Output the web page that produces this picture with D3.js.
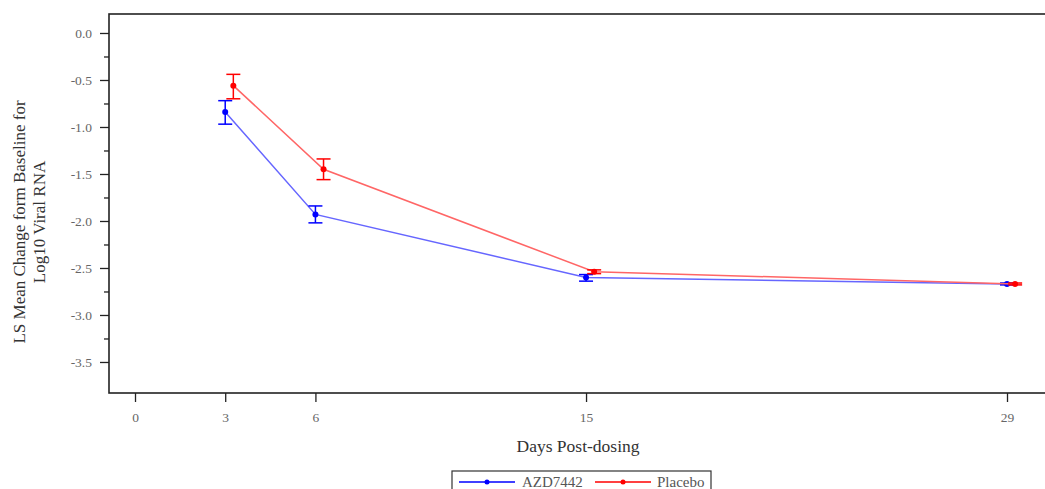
<!DOCTYPE html>
<html><head><meta charset="utf-8">
<script src="https://cdn.jsdelivr.net/npm/d3@7"></script>
<style>body{margin:0;background:#fff;}svg{display:block;}</style>
</head><body>
<svg id="c" width="1045" height="489"></svg>
<script>
const days = [3, 6, 15, 29];
const seriesNames = ["AZD7442", "Placebo"];
const seriesColors = ["#0000ff", "#ff0000"];
const lineColors = ["#6666ff", "#ff6666"];
const azdMean = [-0.84, -1.93, -2.60, -2.67];
const azdLow  = [-0.97, -2.02, -2.64, -2.68];
const azdHigh = [-0.72, -1.84, -2.57, -2.66];
const pboMean = [-0.56, -1.45, -2.54, -2.67];
const pboLow  = [-0.70, -1.56, -2.56, -2.68];
const pboHigh = [-0.44, -1.34, -2.52, -2.66];
const xTicks = [0, 3, 6, 15, 29];
const yTicks = [0, -0.5, -1, -1.5, -2, -2.5, -3, -3.5];
const offsets = [0, 0.27];

const svg = d3.select("#c");
const L = 109, T = 14, R = 1047, B = 393;
const x = d3.scaleLinear().domain([-0.865, 30.33]).range([L, R]);
const y = d3.scaleLinear().domain([-3.83, 0.202]).range([B, T]);
const font = "'Liberation Serif', 'Times New Roman', serif";

// frame
svg.append("rect").attr("x", L).attr("y", T).attr("width", R - L).attr("height", B - T)
  .attr("fill", "none").attr("stroke", "#222").attr("stroke-width", 1.6);

// y axis
const yAx = svg.append("g").attr("transform", `translate(${L},0)`)
  .call(d3.axisLeft(y).tickValues(yTicks).tickFormat(d3.format(".1f")).tickSize(9).tickPadding(8));
yAx.select(".domain").remove();
yAx.selectAll("line").attr("stroke", "#222").attr("stroke-width", 1.3);
yAx.selectAll("text").attr("font-family", font).attr("font-size", 13.5).attr("fill", "#666")
  .text(d => d === 0 ? "0.0" : d3.format(".1f")(d).replace("−", "-"));
const yMinor = svg.append("g").attr("transform", `translate(${L},0)`)
  .call(d3.axisLeft(y).tickValues(yTicks.slice(0, -1).map(v => v - 0.25)).tickFormat("").tickSize(5));
yMinor.select(".domain").remove();
yMinor.selectAll("line").attr("stroke", "#222").attr("stroke-width", 1.3);

// x axis
const xAx = svg.append("g").attr("transform", `translate(0,${B})`)
  .call(d3.axisBottom(x).tickValues(xTicks).tickFormat(d3.format("d")).tickSize(9).tickPadding(10));
xAx.select(".domain").remove();
xAx.selectAll("line").attr("stroke", "#222").attr("stroke-width", 1.3);
xAx.selectAll("text").attr("font-family", font).attr("font-size", 13.5).attr("fill", "#666");

// axis titles
svg.append("text").attr("x", 578).attr("y", 452).attr("text-anchor", "middle")
  .attr("font-family", font).attr("font-size", 17.5).attr("fill", "#333").text("Days Post-dosing");
const yt = svg.append("text").attr("transform", "translate(25,222) rotate(-90)")
  .attr("text-anchor", "middle").attr("font-family", font).attr("font-size", 17).attr("fill", "#333");
yt.append("tspan").attr("x", 0).attr("dy", 0).text("LS Mean Change form Baseline for");
yt.append("tspan").attr("x", 0).attr("dy", 20).text("Log10 Viral RNA");

// data
const data = [
  {mean: azdMean, low: azdLow, high: azdHigh},
  {mean: pboMean, low: pboLow, high: pboHigh}
];
data.forEach((s, i) => {
  const pts = days.map((d, j) => ({d: d + offsets[i], m: s.mean[j], lo: s.low[j], hi: s.high[j]}));
  const g = svg.append("g");
  g.append("path").datum(pts)
    .attr("d", d3.line().x(p => x(p.d)).y(p => y(p.m)))
    .attr("fill", "none").attr("stroke", lineColors[i]).attr("stroke-width", 1.5);
  const eb = g.selectAll(".eb").data(pts).enter().append("g");
  eb.append("line").attr("x1", p => x(p.d)).attr("x2", p => x(p.d))
    .attr("y1", p => y(p.lo)).attr("y2", p => y(p.hi)).attr("stroke", seriesColors[i]).attr("stroke-width", 1.5);
  [ "lo", "hi" ].forEach(k => {
    eb.append("line").attr("x1", p => x(p.d) - 7).attr("x2", p => x(p.d) + 7)
      .attr("y1", p => y(p[k])).attr("y2", p => y(p[k])).attr("stroke", seriesColors[i]).attr("stroke-width", 1.5);
  });
  g.selectAll("circle").data(pts).enter().append("circle")
    .attr("cx", p => x(p.d)).attr("cy", p => y(p.m)).attr("r", 3).attr("fill", seriesColors[i]);
});

// legend
const lg = svg.append("g");
lg.append("rect").attr("x", 452).attr("y", 471).attr("width", 259).attr("height", 24)
  .attr("fill", "#fff").attr("stroke", "#333").attr("stroke-width", 1.2);
const legX = [[459, 515, 522], [595, 651, 657]];
seriesNames.forEach((n, i) => {
  const [a, b, t] = legX[i];
  lg.append("line").attr("x1", a).attr("x2", b).attr("y1", 482).attr("y2", 482)
    .attr("stroke", seriesColors[i]).attr("stroke-width", 1.5);
  lg.append("circle").attr("cx", (a + b) / 2).attr("cy", 482).attr("r", 2.5).attr("fill", seriesColors[i]);
  lg.append("text").attr("x", t).attr("y", 487).attr("font-family", font).attr("font-size", 15)
    .attr("fill", "#555").text(n);
});
</script>
</body></html>
